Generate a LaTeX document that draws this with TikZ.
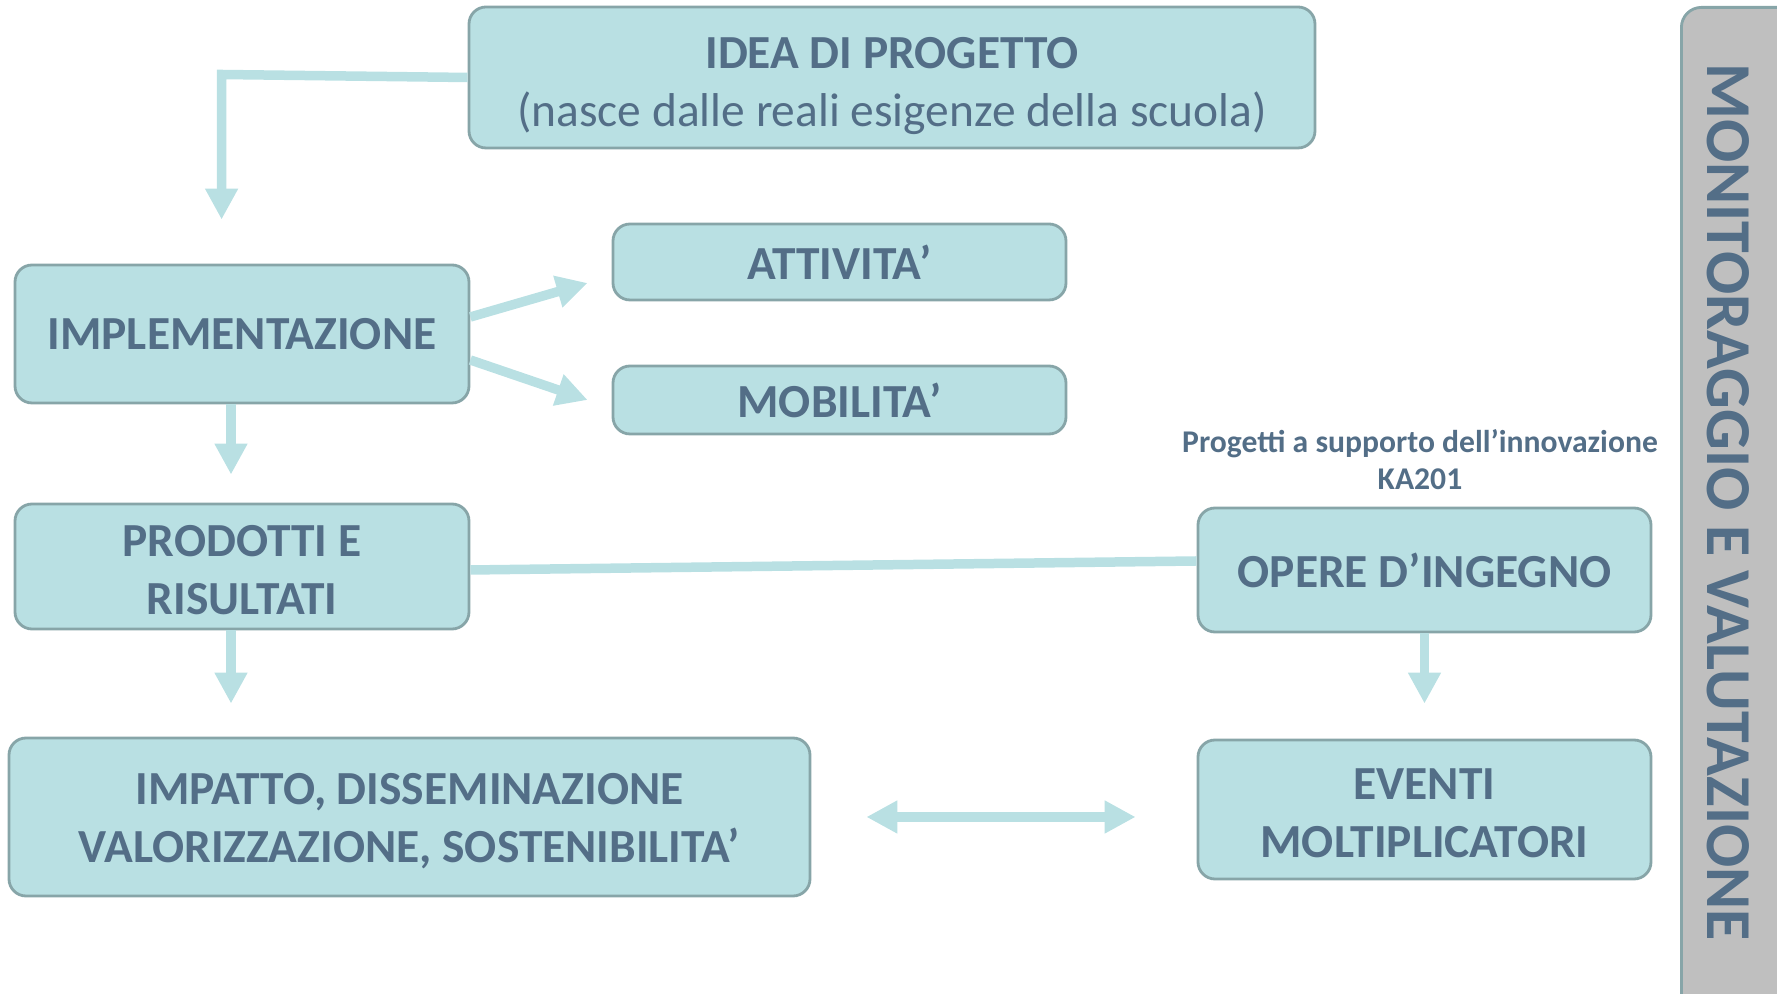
\documentclass[tikz,border=0pt]{standalone}
\usepackage{fontspec}
\setmainfont{Carlito}
\usetikzlibrary{arrows.meta,
                calc}
\definecolor{boxfill}{RGB}{185,224,227}
\definecolor{boxline}{RGB}{135,165,168}
\definecolor{boxtext}{RGB}{83,110,135}
\definecolor{bargrey}{RGB}{191,191,191}

\begin{document}
\begin{tikzpicture}[
  box/.style={draw=boxline, fill=boxfill, line width=0.8pt, rounded corners=0.17cm,
              text=boxtext, align=center, inner sep=0pt,
              font=\fontsize{13.5}{16.5}\selectfont\bfseries},
  link/.style={draw=boxfill, line width=0.095cm},
  arr/.style={link, -{Triangle[length=0.31cm,width=0.31cm]}},
  ]
 \useasboundingbox (0,0) rectangle (17.77,-9.94);
 \clip (0,0) rectangle (17.77,-9.94);
 % barra laterale
 \node[box, fill=bargrey, rounded corners=0.2cm, anchor=north west,
       minimum width=1.3cm, minimum height=10.3cm] (monit) at (16.80,-0.06) {};
 \node[rotate=-90, text=boxtext, font=\fontsize{18.2}{20}\selectfont\bfseries]
       (monitlabel) at (17.28,-5.02) {MONITORAGGIO E VALUTAZIONE};
 % riquadri
 \node[box, minimum width=8.46cm, minimum height=1.41cm] (idea) at (8.92,-0.775)
       {\rule{0pt}{13.5pt}IDEA DI PROGETTO\\{\mdseries (nasce dalle reali esigenze della scuola)}};
 \node[box, minimum width=4.54cm, minimum height=1.38cm] (impl) at (2.42,-3.34) {IMPLEMENTAZIONE};
 \node[box, minimum width=4.53cm, minimum height=0.76cm] (att) at (8.395,-2.62) {ATTIVITA’};
 \node[box, minimum width=4.53cm, minimum height=0.68cm] (mob) at (8.395,-4.0) {MOBILITA’};
 \node[box, minimum width=4.54cm, minimum height=1.25cm] (prod) at (2.42,-5.665) {\rule{0pt}{11pt}PRODOTTI E\\RISULTATI};
 \node[box, minimum width=8.01cm, minimum height=1.58cm] (imp) at (4.095,-8.17)
       {\rule{0pt}{11pt}IMPATTO, DISSEMINAZIONE\\VALORIZZAZIONE, SOSTENIBILITA’};
 \node[box, minimum width=4.53cm, minimum height=1.24cm] (opere) at (14.245,-5.70) {OPERE D’INGEGNO};
 \node[box, minimum width=4.53cm, minimum height=1.39cm] (eventi) at (14.245,-8.095) {\rule{0pt}{11pt}EVENTI\\MOLTIPLICATORI};
 \node[text=boxtext, align=center, font=\fontsize{9}{10.5}\selectfont\bfseries] (ka) at (14.2,-4.6)
       {Progetti a supporto dell’innovazione\\KA201};
 % frecce
 \draw[arr, shorten >=0.44cm] (idea.west) -- ++(-2.46,0.03) coordinate (gomito) -- (gomito |- impl.north);
 \draw[arr] ($(impl.east)+(0,0.17)$) -- ($(att.west)+(-0.24,-0.21)$);
 \draw[arr] ($(impl.east)+(0,-0.26)$) -- ($(mob.west)+(-0.24,0)$);
 \draw[arr, shorten >=0.28cm] ([xshift=-0.11cm]impl.south) -- ([xshift=-0.11cm]prod.north);
 \draw[arr, shorten >=0.33cm] ([xshift=-0.11cm]prod.south) coordinate (giu) -- (giu |- imp.north);
 \draw[arr, shorten >=0.35cm] (opere.south) -- (eventi.north);
 \draw[link] ($(prod.east)+(0,-0.035)$) -- ($(opere.west)+(0,0.09)$);
 \draw[link, {Triangle[length=0.31cm,width=0.31cm]}-{Triangle[length=0.31cm,width=0.31cm]},
       shorten <=0.55cm, shorten >=0.61cm] (imp.east) -- (imp.east -| eventi.west);
\end{tikzpicture}
\end{document}
